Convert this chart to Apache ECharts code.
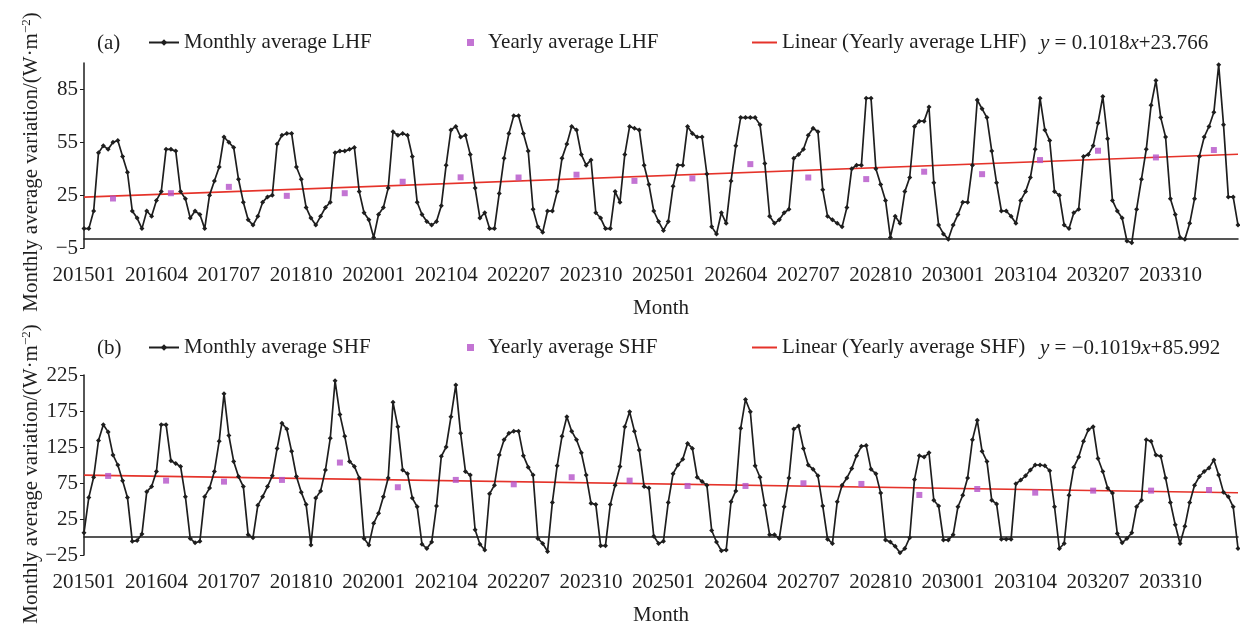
<!DOCTYPE html>
<html>
<head>
<meta charset="utf-8">
<script src="https://cdn.jsdelivr.net/npm/echarts@6/dist/echarts.min.js"></script>
<style>
  html, body { margin: 0; padding: 0; background: #fff; }
  #chart { width: 1240px; height: 629px; }
</style>
</head>
<body>
<div id="chart"></div>
<script>
// month labels 201501 ... 203412
const months = [];
for (let y = 2015; y <= 2034; y++) {
    for (let m = 1; m <= 12; m++) months.push(String(y) + (m < 10 ? '0' : '') + m);
}

// (a) latent heat flux
const lhfMonthly = [
    6, 6, 16, 49, 53, 51, 55, 56, 47, 38, 16, 12,
    6, 16, 13, 22, 27, 51, 51, 50, 27, 23, 12, 16,
    14, 6, 25, 33, 41, 58, 55, 52, 34, 21, 11, 8,
    13, 21, 24, 25, 54, 59, 60, 60, 41, 34, 18, 12,
    8, 13, 18, 21, 49, 50, 50, 51, 52, 27, 15, 11,
    1, 14, 18, 29, 61, 59, 60, 59, 47, 21, 14, 10,
    8, 10, 19, 42, 62, 64, 58, 59, 48, 29, 12, 15,
    6, 6, 26, 46, 60, 70, 70, 60, 50, 17, 7, 4,
    16, 16, 27, 46, 54, 64, 62, 48, 42, 45, 15, 12,
    6, 6, 27, 21, 48, 64, 63, 62, 42, 31, 16, 10,
    5, 10, 30, 42, 42, 64, 60, 58, 58, 37, 7, 3,
    15, 9, 33, 53, 69, 69, 69, 69, 65, 43, 13, 9,
    11, 15, 17, 46, 48, 51, 59, 63, 61, 28, 13, 11,
    9, 7, 18, 40, 42, 42, 80, 80, 40, 31, 22, 1,
    13, 9, 27, 35, 64, 67, 67, 75, 32, 8, 3, 0,
    8, 14, 21, 21, 42, 79, 74, 69, 50, 32, 16, 16,
    13, 9, 22, 27, 35, 51, 80, 62, 56, 27, 25, 8,
    6, 15, 17, 47, 48, 53, 66, 81, 57, 22, 16, 12,
    -1, -2, 17, 34, 51, 76, 90, 69, 58, 23, 14, 1,
    0, 9, 23, 47, 58, 64, 72, 99, 65, 24, 24, 8
];
const lhfYearly = [23.1, 26.1, 29.7, 24.6, 26.1, 32.6, 35.1, 35.0, 36.6, 33.1,
    34.5, 42.6, 35.0, 34.1, 38.3, 36.9, 44.9, 50.2, 46.4, 50.6];
const lhfTrendEnds = [23.9, 48.2];
const lhfTicks = [-5, 25, 55, 85];

// (b) sensible heat flux
const shfMonthly = [
    6, 55, 83, 134, 156, 146, 114, 100, 78, 55, -6, -5,
    4, 63, 70, 91, 156, 156, 106, 102, 98, 56, -2, -8,
    -6, 56, 68, 91, 133, 199, 141, 105, 84, 70, 3, -1,
    44, 56, 70, 85, 123, 158, 150, 119, 84, 62, 45, -11,
    54, 64, 93, 137, 217, 170, 140, 105, 98, 82, -2, -11,
    19, 33, 56, 82, 187, 153, 93, 88, 54, 42, -10, -16,
    -7, 43, 112, 125, 167, 211, 144, 91, 86, 10, -10, -18,
    60, 72, 114, 135, 144, 147, 147, 113, 97, 86, -2, -9,
    -20, 48, 99, 140, 167, 147, 135, 117, 86, 47, 45, -12,
    -12, 45, 72, 98, 153, 174, 147, 121, 70, 68, 1, -9,
    -6, 48, 88, 100, 108, 130, 123, 83, 77, 72, 9, -7,
    -19, -18, 49, 64, 151, 191, 174, 99, 83, 44, 3, 3,
    -2, 42, 82, 150, 154, 123, 100, 94, 85, 43, -3, -9,
    49, 72, 82, 95, 113, 126, 127, 94, 88, 61, -4, -7,
    -13, -22, -16, -1, 80, 113, 111, 117, 51, 43, -4, -4,
    3, 42, 58, 82, 135, 162, 119, 105, 51, 46, -3, -3,
    -3, 74, 79, 85, 93, 100, 100, 99, 92, 42, -16, -9,
    58, 97, 111, 133, 149, 153, 109, 91, 68, 61, 5, -8,
    -2, 6, 42, 51, 135, 133, 114, 112, 82, 48, 17, -9,
    15, 48, 72, 84, 91, 96, 107, 86, 62, 56, 42, -16
];
const shfYearly = [84.8, 78.3, 76.9, 79.3, 103.4, 69.1, 79.3, 73.2, 83.0, 78.3,
    70.9, 70.9, 74.6, 73.7, 58.4, 66.7, 61.6, 64.4, 64.4, 65.3];
const shfTrendEnds = [86.0, 61.5];
const shfTicks = [-25, 25, 75, 125, 175, 225];

const FONT = "'Liberation Serif', 'Times New Roman', serif";
const INK = '#1e1e1e';
const PURPLE = '#b451c8';
const RED = '#e5332a';

const yearPoints = (vals, mm) => vals.map((v, k) => [String(2015 + k) + mm, v]);
const trendPoints = (ends) => [[months[0], ends[0]], [months[months.length - 1], ends[1]]];

function monthlySeries(name, data, idx) {
    return {
        name: name, type: 'line', xAxisIndex: idx, yAxisIndex: idx, data: data,
        symbol: 'diamond', symbolSize: 5, showSymbol: true, showAllSymbol: true,
        lineStyle: {color: INK, width: 1.7}, itemStyle: {color: INK}, z: 3
    };
}
function yearlySeries(name, data, idx) {
    return {
        name: name, type: 'scatter', xAxisIndex: idx, yAxisIndex: idx, data: data,
        symbol: 'rect', symbolSize: 6, itemStyle: {color: PURPLE}, z: 4
    };
}
function trendSeries(name, data, idx) {
    return {
        name: name, type: 'line', xAxisIndex: idx, yAxisIndex: idx, data: data,
        symbol: 'none', lineStyle: {color: RED, width: 1.6}, itemStyle: {color: RED}, z: 2
    };
}

const textStyle = {fontFamily: FONT, fontSize: 21, color: INK};

function xAxis(idx) {
    return {
        type: 'category', gridIndex: idx, data: months, boundaryGap: false,
        axisLine: {lineStyle: {color: INK, width: 1.5}},
        axisTick: {show: false},
        axisLabel: Object.assign({interval: 14, margin: 17}, textStyle),
        name: 'Month', nameLocation: 'middle', nameGap: 50, nameTextStyle: textStyle,
        splitLine: {show: false}
    };
}
function yAxis(idx, min, max, ticks) {
    return {
        type: 'value', gridIndex: idx, min: min, max: max,
        axisLine: {show: true, lineStyle: {color: INK, width: 1.5}},
        axisTick: {show: true, length: 4, customValues: ticks, lineStyle: {color: INK}},
        axisLabel: Object.assign({
            margin: 6, customValues: ticks,
            formatter: (v) => String(v).replace('-', '\u2212')
        }, textStyle),
        splitLine: {show: false}
    };
}
function legendItem(name, left, top, w, h, extra) {
    return Object.assign({
        data: [name], left: left, top: top, padding: 0, itemWidth: w, itemHeight: h,
        selectedMode: false, textStyle: textStyle
    }, extra || {});
}
function yName(y) {
    return {
        type: 'text', x: 31, y: y, rotation: Math.PI / 2,
        style: {
            text: '{n|Monthly average variation/(W·m}{s|−2}{n|)}',
            align: 'center', verticalAlign: 'middle',
            rich: {
                n: {fontFamily: FONT, fontSize: 21, fill: INK, lineHeight: 22},
                s: {fontFamily: FONT, fontSize: 13, fill: INK, verticalAlign: 'top', lineHeight: 22}
            }
        }
    };
}
function label(text, x, y) {
    return {type: 'text', x: x, y: y, style: {text: text, fontFamily: FONT, fontSize: 21, fill: INK, verticalAlign: 'middle'}};
}
function equation(a, b, x, y) {
    return {
        type: 'text', x: x, y: y,
        style: {
            text: '{i|y} = ' + a + '{i|x}+' + b, verticalAlign: 'middle',
            fontFamily: FONT, fontSize: 21, fill: INK,
            rich: {i: {fontFamily: FONT, fontSize: 21, fontStyle: 'italic', fill: INK}}
        }
    };
}

const chart = echarts.init(document.getElementById('chart'), null, {renderer: 'canvas'});
chart.setOption({
    animation: false,
    backgroundColor: '#fff',
    grid: [
        {left: 84, right: 2, top: 63, height: 185},
        {left: 84, right: 2, top: 375, height: 180}
    ],
    xAxis: [xAxis(0), xAxis(1)],
    yAxis: [yAxis(0, -5, 100, lhfTicks), yAxis(1, -25, 225, shfTicks)],
    legend: [
        legendItem('Monthly average LHF', 148, 32, 30, 8),
        legendItem('Yearly average LHF', 467, 32, 7, 7, {textStyle: Object.assign({padding: [0, 0, 0, 9]}, textStyle)}),
        legendItem({name: 'Linear (Yearly average LHF)', icon: 'rect'}, 752, 32, 25, 2),
        legendItem('Monthly average SHF', 148, 337, 30, 8),
        legendItem('Yearly average SHF', 467, 337, 7, 7, {textStyle: Object.assign({padding: [0, 0, 0, 9]}, textStyle)}),
        legendItem({name: 'Linear (Yearly average SHF)', icon: 'rect'}, 752, 337, 25, 2)
    ],
    graphic: [
        label('(a)', 97, 43),
        label('(b)', 97, 348),
        equation('0.1018', '23.766', 1040, 43),
        equation('−0.1019', '85.992', 1040, 348),
        yName(162),
        yName(474)
    ],
    series: [
        trendSeries('Linear (Yearly average LHF)', trendPoints(lhfTrendEnds), 0),
        monthlySeries('Monthly average LHF', lhfMonthly, 0),
        yearlySeries('Yearly average LHF', yearPoints(lhfYearly, '07'), 0),
        trendSeries('Linear (Yearly average SHF)', trendPoints(shfTrendEnds), 1),
        monthlySeries('Monthly average SHF', shfMonthly, 1),
        yearlySeries('Yearly average SHF', yearPoints(shfYearly, '06'), 1)
    ]
});
</script>
</body>
</html>
